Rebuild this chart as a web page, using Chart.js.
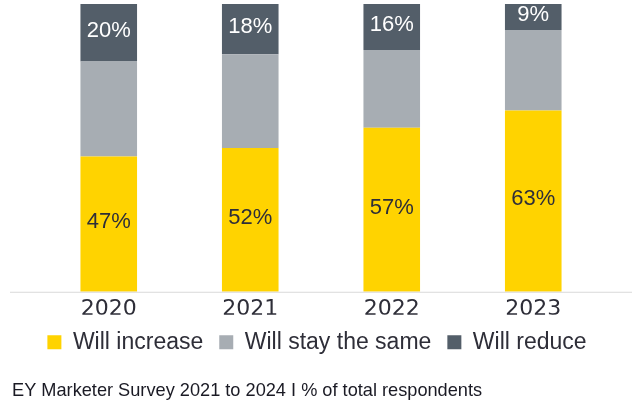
<!DOCTYPE html>
<html>
<head>
<meta charset="utf-8">
<script src="https://cdn.jsdelivr.net/npm/chart.js@4"></script>
<style>
  html, body { margin: 0; padding: 0; background: #fff; }
  #wrap { width: 636px; height: 408px; }
</style>
</head>
<body>
<div id="wrap"><canvas id="chart" width="636" height="408"></canvas></div>
<script>
const years = ['2020', '2021', '2022', '2023'];
const willIncrease = [47, 50, 57, 63];
const willStay = [33, 32.5, 27, 28];
const willReduce = [20, 17.5, 16, 9];
const increaseLabels = ['47%', '52%', '57%', '63%'];
const reduceLabels = ['20%', '18%', '16%', '9%'];
const caption = 'EY Marketer Survey 2021 to 2024 I % of total respondents';

const navy = '#2e2e38';

// long grey line under the bars
const baseLine = {
    id: 'baseLine',
    afterDatasetsDraw(chart) {
        const ctx = chart.ctx;
        const y = chart.chartArea.bottom + 0.5;
        ctx.save();
        ctx.strokeStyle = '#d9d9d9';
        ctx.lineWidth = 1;
        ctx.beginPath();
        ctx.moveTo(10, y);
        ctx.lineTo(632, y);
        ctx.stroke();
        ctx.restore();
    }
};

// percent labels on the yellow and dark segments
const segLabels = {
    id: 'segLabels',
    afterDatasetsDraw(chart) {
        const ctx = chart.ctx;
        ctx.save();
        ctx.textAlign = 'center';
        ctx.textBaseline = 'middle';
        ctx.font = '22px "Liberation Sans"';
        chart.data.datasets.forEach((ds, i) => {
            if (!ds.segText) return;
            chart.getDatasetMeta(i).data.forEach((bar, j) => {
                ctx.fillStyle = ds.labelColor;
                ctx.fillText(ds.segText[j], bar.x, (bar.y + bar.base) / 2 - 2);
            });
        });
        ctx.restore();
    }
};

// empty side axes only reserve room so the legend can use the full width
const sideGap = (w) => ({
    display: true,
    grid: { display: false },
    border: { display: false },
    ticks: { display: false },
    afterFit(scale) { scale.width = w; }
});

new Chart(document.getElementById('chart'), {
    type: 'bar',
    data: {
        labels: years,
        datasets: [
            { label: 'Will increase', data: willIncrease, backgroundColor: '#ffd300', segText: increaseLabels, labelColor: navy },
            { label: 'Will stay the same', data: willStay, backgroundColor: '#a7adb3' },
            { label: 'Will reduce', data: willReduce, backgroundColor: '#535e69', segText: reduceLabels, labelColor: '#ffffff' }
        ]
    },
    options: {
        responsive: false,
        animation: false,
        devicePixelRatio: 1,
        layout: { padding: { left: 12, right: 14, top: 4, bottom: 4 } },
        datasets: {
            bar: { barPercentage: 0.4, categoryPercentage: 1.0 }
        },
        scales: {
            x: {
                stacked: true,
                grid: { display: false, drawTicks: false },
                border: { display: false },
                ticks: {
                    color: navy,
                    padding: 4,
                    font: { family: 'DejaVu Sans', size: 22 }
                },
                afterFit(scale) { scale.height = 23; }
            },
            y: Object.assign(sideGap(26), { stacked: true, min: 0, max: 100, position: 'left' }),
            yRight: Object.assign(sideGap(18), { position: 'right' })
        },
        plugins: {
            legend: {
                position: 'bottom',
                labels: {
                    color: navy,
                    boxWidth: 14,
                    boxHeight: 14,
                    padding: 16,
                    font: { family: 'Liberation Sans', size: 23 }
                }
            },
            title: {
                display: true,
                text: caption,
                position: 'bottom',
                align: 'start',
                color: '#1a1a24',
                padding: { top: 16.7, bottom: 1.7 },
                font: { family: 'Liberation Sans', size: 18.2, weight: 'normal' }
            },
            tooltip: { enabled: false }
        }
    },
    plugins: [baseLine, segLabels]
});
</script>
</body>
</html>
